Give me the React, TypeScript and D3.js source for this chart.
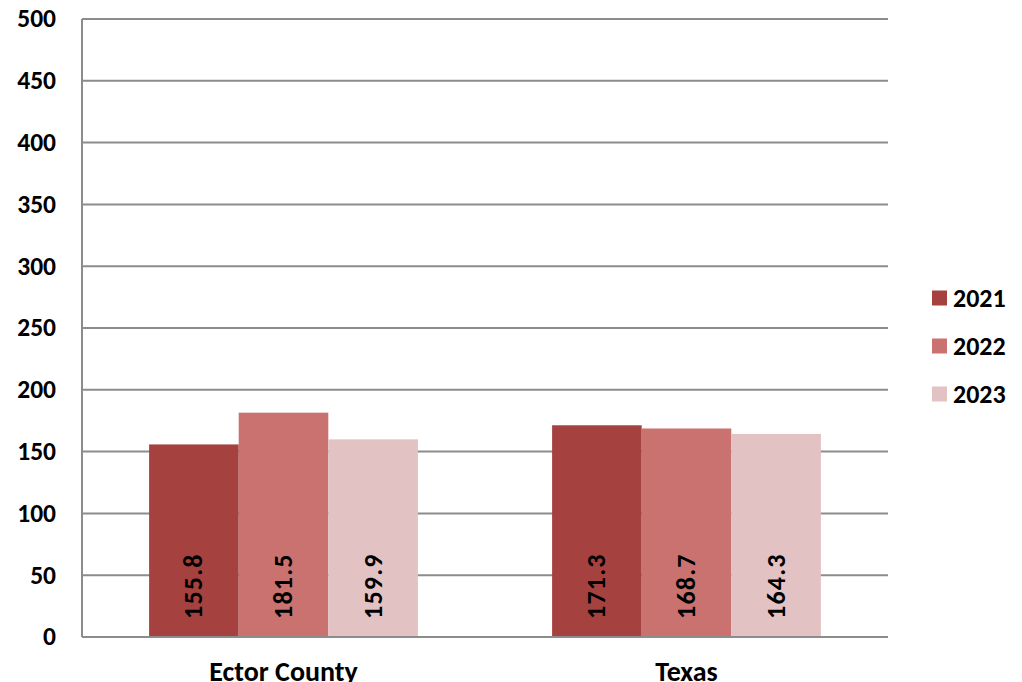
import React from "react";
import * as d3 from "d3";

const categories = ["Ector County", "Texas"];
const years = ["2021", "2022", "2023"];
const values2021 = [155.8, 171.3];
const values2022 = [181.5, 168.7];
const values2023 = [159.9, 164.3];
const yTicks = [0, 50, 100, 150, 200, 250, 300, 350, 400, 450, 500];
const colors = ["#A5423F", "#C97270", "#E3C2C4"];

const series = [values2021, values2022, values2023];

export default function App() {
  const W = 1022, H = 682;
  const left = 82, right = 888, top = 19, bottom = 637;
  const font = "Carlito, Lato, 'Open Sans', sans-serif";
  const x = d3.scaleBand().domain(categories).range([left, right]).paddingInner(0.333).paddingOuter(0.1665);
  const y = d3.scaleLinear().domain([0, 500]).range([bottom, top]);
  const inner = d3.scaleBand().domain(years).range([0, x.bandwidth()]);
  return (
    <svg width={W} height={H} style={{ position: "absolute", left: 0, top: 0 }}>
      <rect width={W} height={H} fill="#fff" />
      {yTicks.map((t) => (
        <g key={t}>
          <line x1={left} x2={right} y1={y(t)} y2={y(t)} stroke="#8C8C8C" strokeWidth={2} />
          <text x={56} y={y(t)} dy="0.33em" textAnchor="end" fontFamily={font} fontWeight="bold" fontSize={25.5} fill="#000">{t}</text>
        </g>
      ))}
      <line x1={left} x2={left} y1={top} y2={bottom} stroke="#8C8C8C" strokeWidth={2} />
      {categories.map((c, ci) => (
        <g key={c}>
          {years.map((yr, si) => {
            const v = series[si][ci];
            const bx = (x(c) as number) + (inner(yr) as number);
            const bw = inner.bandwidth();
            return (
              <g key={yr}>
                <rect x={bx} y={y(v)} width={bw} height={bottom - y(v)} fill={colors[si]} />
                <text transform={`translate(${bx + bw / 2},${619}) rotate(-90)`} dy="0.33em" textAnchor="start" fontFamily={font} fontWeight="bold" fontSize={26} letterSpacing={1.2} fill="#000">{v.toFixed(1)}</text>
              </g>
            );
          })}
          <text x={(x(c) as number) + x.bandwidth() / 2} y={681} textAnchor="middle" fontFamily={font} fontWeight="bold" fontSize={28} fill="#000">{c}</text>
        </g>
      ))}
      <line x1={left} x2={right} y1={bottom} y2={bottom} stroke="#8C8C8C" strokeWidth={2} />
      {years.map((yr, i) => (
        <g key={yr} transform={`translate(932,${298 + i * 48})`}>
          <rect x={0} y={-7.5} width={15} height={15} fill={colors[i]} />
          <text x={21} y={0} dy="0.33em" fontFamily={font} fontWeight="bold" fontSize={26} fill="#000">{yr}</text>
        </g>
      ))}
    </svg>
  );
}
